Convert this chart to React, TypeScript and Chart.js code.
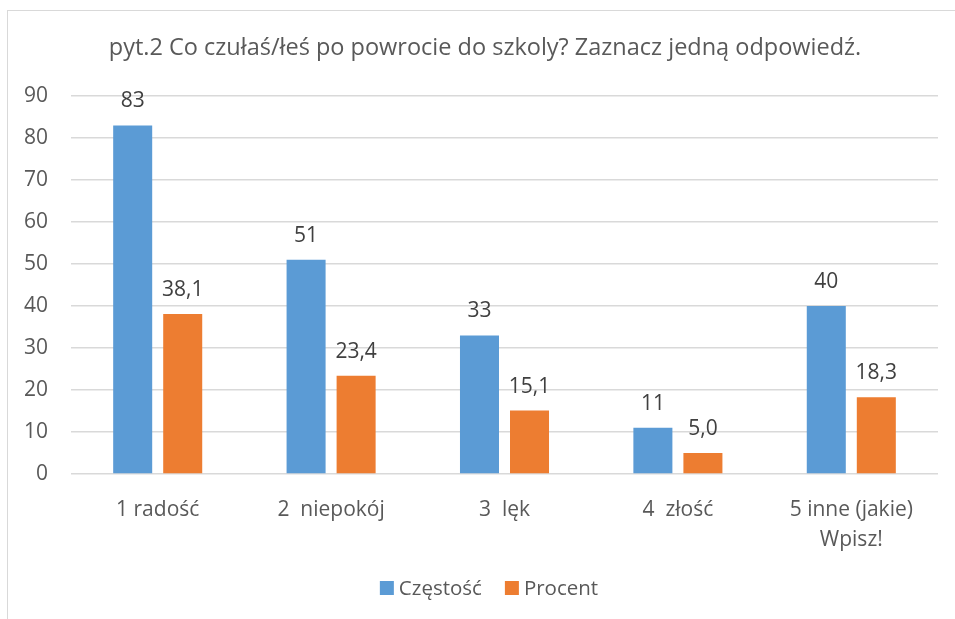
import React, { useEffect, useRef } from "react";
import { Chart, registerables } from "chart.js";

Chart.register(...registerables);

const titleText = "pyt.2 Co czułaś/łeś po powrocie do szkoly? Zaznacz jedną odpowiedź.";
const categories: (string | string[])[] = ["1 radość", "2  niepokój", "3  lęk", "4  złość", ["5 inne (jakie)", "Wpisz!"]];
const seriesNames = ["Częstość", "Procent"];
const czestosc = [83, 51, 33, 11, 40];
const procent = [38.1, 23.4, 15.1, 5.0, 18.3];
const yTicks = [0, 10, 20, 30, 40, 50, 60, 70, 80, 90];

const BLUE = "#5B9BD5";
const ORANGE = "#ED7D31";
const GRID = "#D9D9D9";
const TEXT = "#595959";
const LABEL = "#404040";
const FONT = "'Open Sans', sans-serif";

const W = 947;
const H = 608;

const fmt = (v: number, ds: number) =>
  ds === 1 ? v.toFixed(1).replace(".", ",") : String(v);

const extrasPlugin = {
  id: "extras",
  afterDatasetsDraw(chart: any) {
    const ctx = chart.ctx;
    ctx.save();
    // data labels
    ctx.font = `21px ${FONT}`;
    ctx.fillStyle = LABEL;
    ctx.textAlign = "center";
    ctx.textBaseline = "middle";
    chart.data.datasets.forEach((ds: any, di: number) => {
      const meta = chart.getDatasetMeta(di);
      meta.data.forEach((bar: any, i: number) => {
        ctx.fillText(fmt(ds.data[i], di), bar.x, bar.y - 24);
      });
    });
    // title
    ctx.font = `23.5px ${FONT}`;
    ctx.fillStyle = TEXT;
    ctx.fillText(titleText, 477, 37);
    // legend
    ctx.font = `20.5px ${FONT}`;
    ctx.textAlign = "left";
    const colors = [BLUE, ORANGE];
    const widths = seriesNames.map((n) => ctx.measureText(n).width);
    const box = 14, gapBox = 5, gapItem = 23;
    const total = widths.reduce((a, w) => a + box + gapBox + w, 0) + gapItem;
    let x = 481 - total / 2;
    const y = 577;
    seriesNames.forEach((n, i) => {
      ctx.fillStyle = colors[i];
      ctx.fillRect(x, y - box / 2, box, box);
      ctx.fillStyle = TEXT;
      ctx.fillText(n, x + box + gapBox, y + 1);
      x += box + gapBox + widths[i] + gapItem;
    });
    ctx.restore();
  },
};

export default function App() {
  const ref = useRef<HTMLCanvasElement | null>(null);
  useEffect(() => {
    if (!ref.current) return;
    const chart = new Chart(ref.current, {
      type: "bar",
      data: {
        labels: categories,
        datasets: [
          { label: seriesNames[0], data: czestosc, backgroundColor: BLUE, categoryPercentage: 0.577, barPercentage: 0.78 },
          { label: seriesNames[1], data: procent, backgroundColor: ORANGE, categoryPercentage: 0.577, barPercentage: 0.78 },
        ],
      },
      options: {
        responsive: false,
        animation: false,
        layout: { padding: { left: 0, right: 17, top: 85, bottom: 0 } },
        plugins: {
          legend: { display: false },
          title: { display: false },
          tooltip: { enabled: false },
        },
        scales: {
          x: {
            grid: { display: false },
            border: { display: false },
            ticks: {
              color: TEXT,
              font: { family: FONT, size: 21, lineHeight: 1.43 },
              padding: 13,
              maxRotation: 0,
              autoSkip: false,
            },
            afterFit: (s: any) => {
              s.height = H - 463;
            },
          },
          y: {
            min: 0,
            max: 90,
            afterBuildTicks: (s: any) => {
              s.ticks = yTicks.map((v) => ({ value: v }));
            },
            grid: { color: GRID, lineWidth: 1.5, drawTicks: false },
            border: { display: false },
            ticks: {
              color: TEXT,
              font: { family: FONT, size: 21 },
              padding: 23,
            },
            afterFit: (s: any) => {
              s.width = 63;
            },
          },
        },
      },
      plugins: [extrasPlugin],
    });
    return () => chart.destroy();
  }, []);
  return (
    <div
      style={{
        position: "absolute",
        left: 7,
        top: 10,
        width: W + 1,
        height: H + 1,
        borderLeft: "1.5px solid #D9D9D9",
        borderTop: "1.5px solid #D9D9D9",
        boxSizing: "border-box",
        background: "#fff",
      }}
    >
      <canvas ref={ref} width={W} height={H} style={{ display: "block" }} />
    </div>
  );
}
